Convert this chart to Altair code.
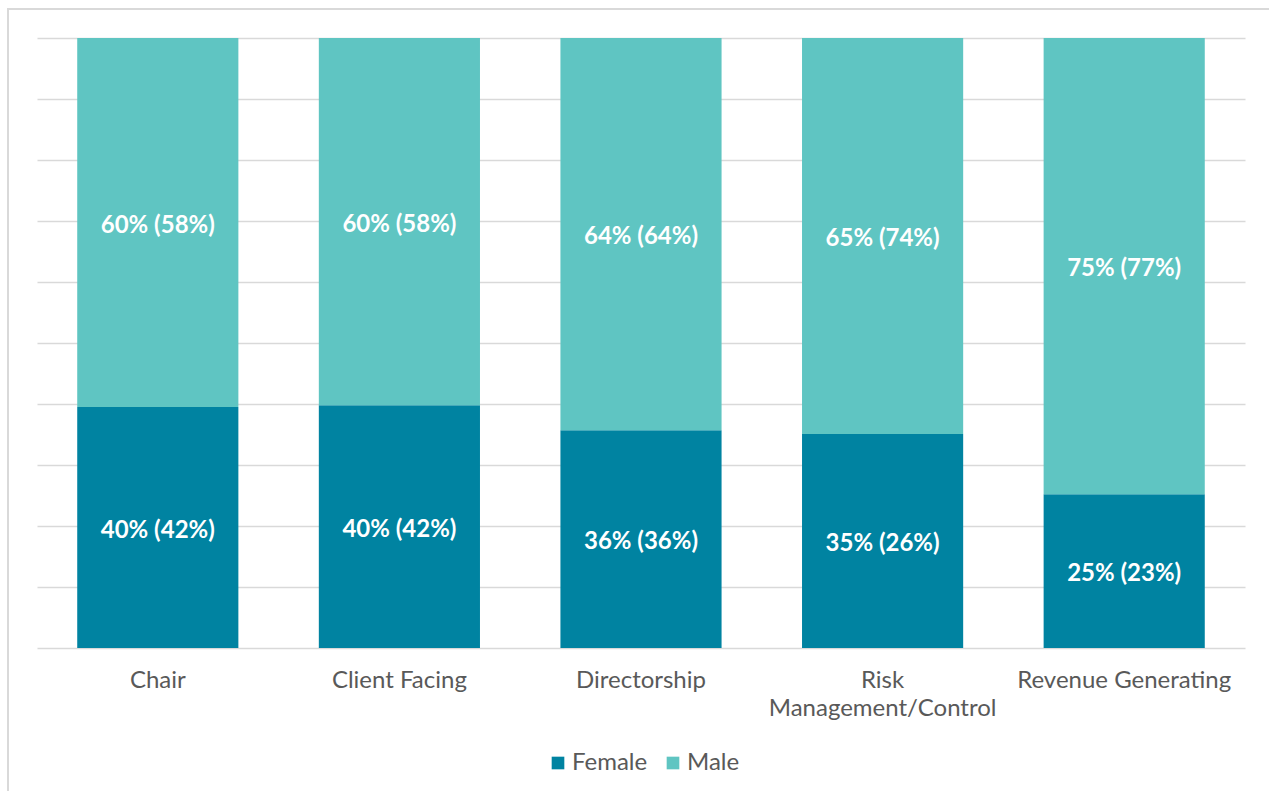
import altair as alt
import pandas as pd

categories = ["Chair", "Client Facing", "Directorship", "Risk Management/Control", "Revenue Generating"]
female_vals = [39.5, 39.8, 35.7, 35.1, 25.2]
male_vals = [60.5, 60.2, 64.3, 64.9, 74.8]
female_labels = ["40% (42%)", "40% (42%)", "36% (36%)", "35% (26%)", "25% (23%)"]
male_labels = ["60% (58%)", "60% (58%)", "64% (64%)", "65% (74%)", "75% (77%)"]
series = ["Female", "Male"]
colors = ["#0083A1", "#5FC5C2"]

rows = []
for i, c in enumerate(categories):
    f, m = female_vals[i], male_vals[i]
    rows.append(dict(cat=c, series="Female", y0=0, y1=f, mid=f / 2, label=female_labels[i], order=0))
    rows.append(dict(cat=c, series="Male", y0=f, y1=f + m, mid=f + m / 2, label=male_labels[i], order=1))
df = pd.DataFrame(rows)

W, H = 1208, 610
PL, PT = 37, 38

xaxis = alt.Axis(labelAngle=0, ticks=False, domain=False, grid=False,
                 labelFont="Lato", labelFontSize=24, labelColor="#595959",
                 labelPadding=20, labelLimit=300, labelLineHeight=28,
                 labelExpr="datum.label == 'Risk Management/Control' ? ['Risk', 'Management/Control'] : datum.label")
xscale = alt.Scale(paddingInner=0.333, paddingOuter=0.1665)
yaxis = alt.Axis(values=list(range(0, 101, 10)), labels=False, ticks=False, domain=False,
                 grid=True, gridColor="#D9D9D9", gridWidth=1.5)
yscale = alt.Scale(domain=[0, 100], nice=False)

bars = alt.Chart(df).mark_bar().encode(
    x=alt.X("cat:N", sort=categories, title=None, scale=xscale, axis=xaxis),
    y=alt.Y("y0:Q", scale=yscale, title=None, axis=yaxis),
    y2="y1:Q",
    color=alt.Color("series:N", scale=alt.Scale(domain=series, range=colors), title=None,
                    legend=alt.Legend(orient="none", legendX=509, legendY=713, direction="horizontal",
                                      symbolType="square", symbolSize=160, symbolStrokeWidth=0,
                                      labelFont="Lato", labelFontSize=24, labelColor="#595959",
                                      labelOffset=2, columnPadding=13, padding=0)),
    order="order:Q",
)

texts = alt.Chart(df).mark_text(font="Lato", fontSize=24, fontWeight="bold", color="white", dy=3).encode(
    x=alt.X("cat:N", sort=categories, title=None, scale=xscale, axis=xaxis),
    y=alt.Y("mid:Q", scale=yscale, title=None, axis=yaxis),
    text="label:N",
)

border = alt.Chart(pd.DataFrame({"a": [0]})).mark_rect(fill=None, stroke="#D9D9D9", strokeWidth=2, clip=False).encode(
    x=alt.value(8 - PL), x2=alt.value(1300 - PL),
    y=alt.value(9 - PT), y2=alt.value(820 - PT),
)

chart = alt.layer(border, bars, texts).properties(
    width=W, height=H,
    autosize=alt.AutoSizeParams(type="none"),
    padding={"left": PL, "top": PT, "right": 1269 - PL - W, "bottom": 791 - PT - H},
    view=alt.ViewBackground(strokeOpacity=0, strokeWidth=0),
).configure_view(strokeWidth=0, strokeOpacity=0).configure(background="white")

chart.save("out.html", embed_options={"renderer": "svg", "actions": False})
